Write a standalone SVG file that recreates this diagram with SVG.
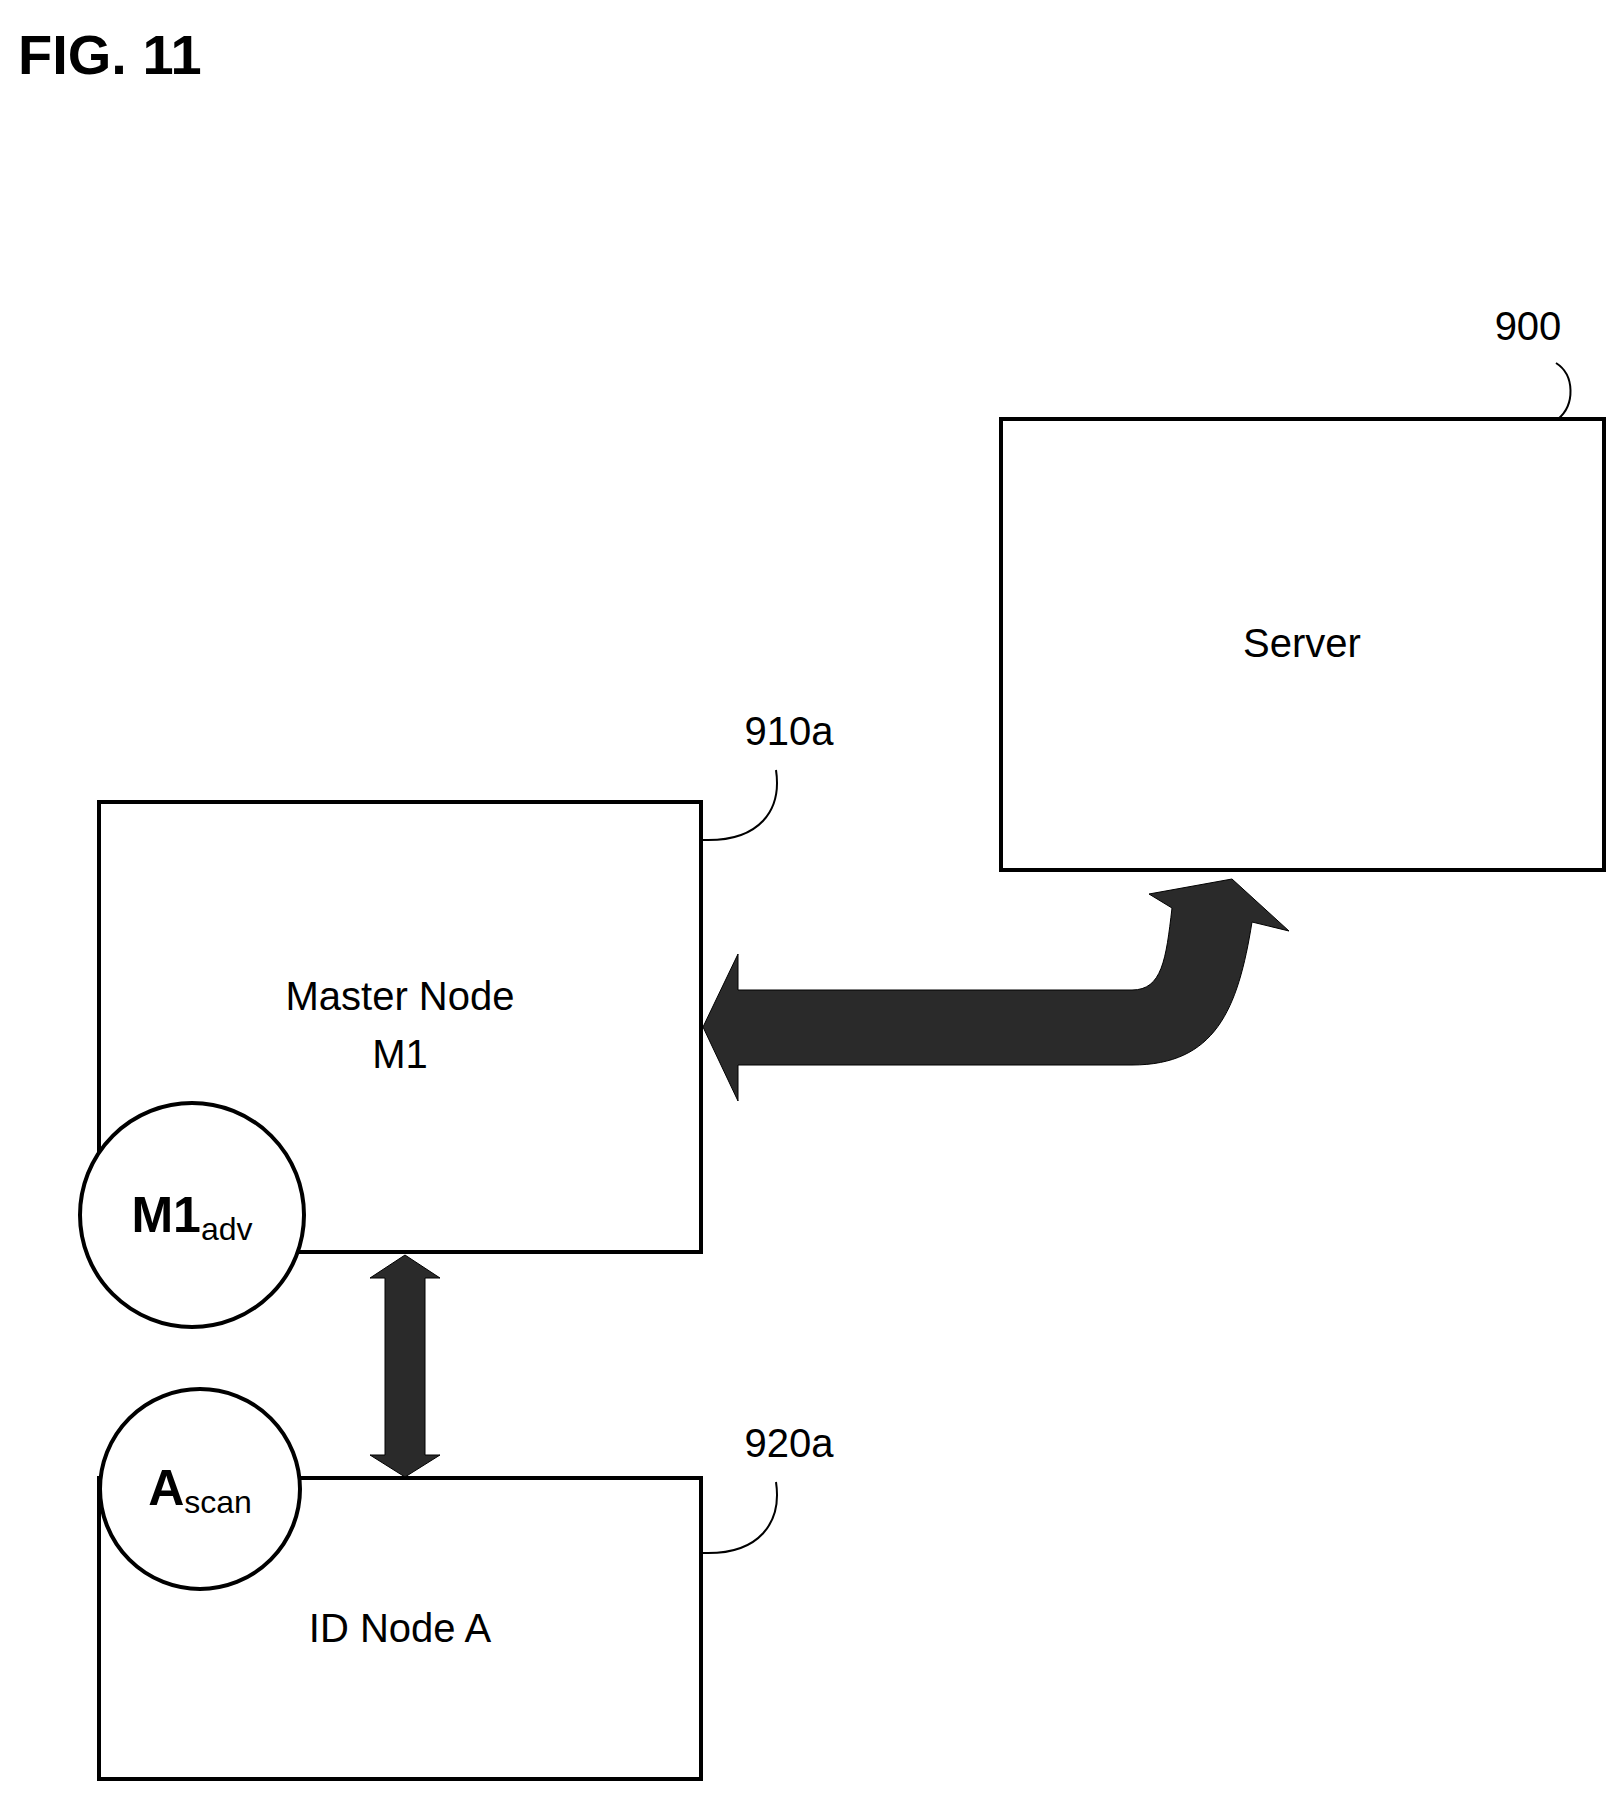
<svg xmlns="http://www.w3.org/2000/svg" width="1624" height="1800" viewBox="0 0 1624 1800">
<style>
.box{fill:#fff;stroke:#000;stroke-width:4}
.t{font-family:"Liberation Sans",Arial,sans-serif;font-size:40px;fill:#000;text-anchor:middle}
.lead{fill:none;stroke:#000;stroke-width:2}
.arr{fill:#2a2a2a;stroke:#000;stroke-width:1}
</style>
<rect width="1624" height="1800" fill="#fff"/>
<text x="18" y="74" font-family="Liberation Sans,Arial,sans-serif" font-size="56" font-weight="bold">FIG. 11</text>
<g id="server">
<rect class="box" x="1001" y="419" width="603" height="451"/>
<text class="t" x="1302" y="657">Server</text>
<text class="t" x="1528" y="340">900</text>
<path class="lead" d="M1556,363 C1575,375 1575,405 1558,419"/>
</g>
<g id="master">
<rect class="box" x="99" y="802" width="602" height="450"/>
<text class="t" x="400" y="1010">Master Node</text>
<text class="t" x="400" y="1068">M1</text>
<text class="t" x="789" y="745">910a</text>
<path class="lead" d="M776,770 C782,810 760,842 703,840"/>
</g>
<g id="m1adv">
<circle class="box" cx="192" cy="1215" r="112"/>
<text x="192" y="1232" text-anchor="middle" font-family="Liberation Sans,Arial,sans-serif"><tspan font-size="50" font-weight="bold">M1</tspan><tspan font-size="32" dy="8">adv</tspan></text>
</g>
<g id="idnode">
<rect class="box" x="99" y="1478" width="602" height="301"/>
<text class="t" x="400" y="1642">ID Node A</text>
<text class="t" x="789" y="1457">920a</text>
<path class="lead" d="M776,1482 C782,1522 760,1555 703,1553"/>
</g>
<g id="ascan">
<circle class="box" cx="200" cy="1489" r="100"/>
<text x="200" y="1505" text-anchor="middle" font-family="Liberation Sans,Arial,sans-serif"><tspan font-size="50" font-weight="bold">A</tspan><tspan font-size="32" dy="8">scan</tspan></text>
</g>
<g id="connectors">
<path class="arr" d="M703,1027 L738,954 L738,990 L1132,990 C1162,990 1166,960 1172,908 L1149,894 L1232,879 L1289,931 L1252,922 C1238,1010 1215,1065 1132,1065 L738,1065 L738,1101 Z"/>
<path class="arr" d="M405,1255 L440,1278 L425,1278 L425,1455 L440,1455 L405,1477 L370,1455 L385,1455 L385,1278 L370,1278 Z"/>
</g>
</svg>
